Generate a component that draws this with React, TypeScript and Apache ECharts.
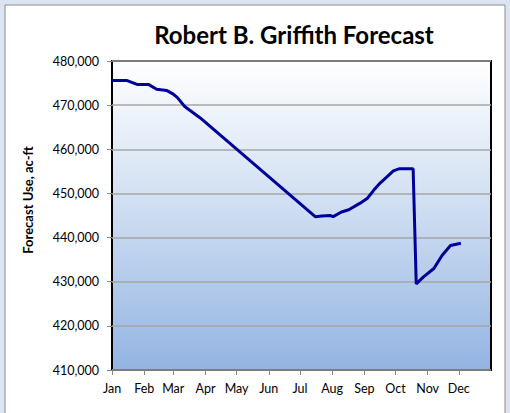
import React, { useEffect, useRef } from "react";
import * as echarts from "echarts";

const monthNames = ["Jan", "Feb", "Mar", "Apr", "May", "Jun", "Jul", "Aug", "Sep", "Oct", "Nov", "Dec"];
const monthStartDays = [0, 31, 59, 90, 120, 151, 181, 212, 243, 273, 304, 334];
const totalDays = 365;

// Forecast series: day of year (0 = Jan 1) and forecast use (ac-ft)
const forecastDays = [0, 14, 24, 35, 43, 53, 59, 63, 70, 85, 196, 202, 210, 213, 221, 228, 239, 246, 252, 258, 265, 271, 277, 290, 293, 300, 310, 318, 326, 336];
const forecastValues = [475600, 475600, 474700, 474700, 473600, 473300, 472500, 471700, 469700, 467100, 444700, 444900, 445000, 444750, 445800, 446300, 447800, 448900, 450700, 452300, 453800, 455100, 455600, 455600, 429500, 431100, 433000, 436000, 438200, 438700];

const yMin = 410000;
const yMax = 480000;
const yStep = 10000;

const titleText = "Robert B. Griffith Forecast";
const yAxisTitle = "Forecast Use, ac-ft";

export default function App() {
  const ref = useRef<HTMLDivElement>(null);
  useEffect(() => {
    if (!ref.current) return;
    const chart = echarts.init(ref.current, undefined, { renderer: "svg" });
    const categories: string[] = [];
    for (let d = 0; d <= totalDays; d++) {
      const mi = monthStartDays.indexOf(d);
      categories.push(mi >= 0 ? monthNames[mi] : "d" + d);
    }
    const isMonthStart = (idx: number) => monthStartDays.indexOf(idx) >= 0;
    const font = "Lato, 'Open Sans', sans-serif";
    chart.setOption({
      animation: false,
      backgroundColor: "#dbe5f1",
      graphic: [
        {
          type: "rect",
          shape: { x: 5, y: 5, width: 500, height: 420 },
          style: { fill: "#ffffff", stroke: "#8c8c8c", lineWidth: 1 },
          z: -10,
        },
        {
          type: "text",
          x: 294,
          y: 34,
          style: {
            text: titleText,
            font: "bold 24px " + font,
            fill: "#000",
            textAlign: "center",
            textVerticalAlign: "middle",
          },
        },
        {
          type: "text",
          x: 28,
          y: 200,
          rotation: Math.PI / 2,
          style: {
            text: yAxisTitle,
            font: "bold 13px " + font,
            fill: "#000",
            textAlign: "center",
            textVerticalAlign: "middle",
          },
        },
      ],
      grid: {
        left: 112,
        top: 61,
        right: 19,
        bottom: 43,
        show: true,
        borderColor: "#000",
        borderWidth: 2,
        backgroundColor: new echarts.graphic.LinearGradient(0, 0, 0, 1, [
          { offset: 0, color: "#ffffff" },
          { offset: 0.5, color: "#ccdcf1" },
          { offset: 1, color: "#93b4e2" },
        ]),
      },
      xAxis: {
        type: "category",
        data: categories,
        boundaryGap: false,
        axisLine: { show: false },
        axisTick: {
          show: true,
          interval: (idx: number) => isMonthStart(idx),
          length: 5,
          lineStyle: { color: "#868686" },
        },
        axisLabel: {
          interval: (idx: number) => isMonthStart(idx),
          color: "#000",
          fontSize: 12.5,
          fontFamily: font,
          margin: 12,
        },
        splitLine: { show: false },
      },
      yAxis: {
        type: "value",
        min: yMin,
        max: yMax,
        interval: yStep,
        axisLine: { show: false },
        axisTick: { show: true, length: 5, lineStyle: { color: "#868686" } },
        axisLabel: {
          color: "#000",
          fontSize: 12.5,
          fontFamily: font,
          margin: 13,
          formatter: (v: number) => v.toLocaleString("en-US"),
        },
        splitLine: { show: true, lineStyle: { color: "#a6a6a6", width: 1.5 } },
      },
      series: [
        {
          type: "line",
          data: forecastDays.map((d, i) => [d, forecastValues[i]]),
          showSymbol: false,
          symbol: "none",
          lineStyle: { color: "#00009a", width: 3 },
          z: 5,
        },
      ],
    });
    return () => chart.dispose();
  }, []);
  return (
    <div
      ref={ref}
      style={{ position: "absolute", left: 0, top: 0, width: 510, height: 413 }}
    />
  );
}
